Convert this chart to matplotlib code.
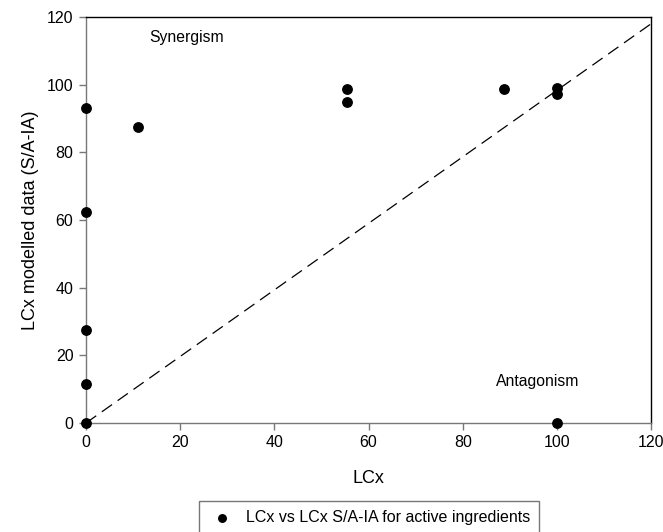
import matplotlib
matplotlib.use("Agg")
import matplotlib.pyplot as plt

plt.rcParams["font.family"] = ["Liberation Sans", "DejaVu Sans"]

# data
lcx = [0, 0, 0, 0, 0, 11, 55.5, 55.5, 88.8, 100, 100, 100]
lcx_model = [93.2, 62.3, 27.5, 11.5, 0, 87.5, 98.8, 94.8, 98.6, 99.0, 97.1, 0]
diag_x = [0, 120]
diag_y = [0, 118]

fig = plt.figure(figsize=(6.63, 5.32), dpi=100)
ax = fig.add_axes([0.1297, 0.2049, 0.8523, 0.7631])

ax.plot(diag_x, diag_y, color="black", lw=0.9, dashes=(10, 5.5))
ax.scatter(lcx, lcx_model, s=46, color="black", zorder=3, clip_on=False,
           label="LCx vs LCx S/A-IA for active ingredients")

ax.set_xlim(0, 120)
ax.set_ylim(0, 120)
ax.set_xticks(range(0, 121, 20))
ax.set_yticks(range(0, 121, 20))
ax.tick_params(direction="out", length=5, width=1, color="#777777",
               labelsize=11.5, pad=4)
ax.spines["left"].set_color("#777777")
ax.spines["bottom"].set_color("#777777")
ax.spines["top"].set_color("black")
ax.spines["right"].set_color("black")
for sp in ax.spines.values():
    sp.set_linewidth(1.0)

ax.set_xlabel("LCx", fontsize=13, labelpad=14)
ax.set_ylabel("LCx modelled data (S/A-IA)", fontsize=13, labelpad=6)

ax.text(13.5, 113.8, "Synergism", fontsize=11.3, va="center", ha="left")
ax.text(87, 12.4, "Antagonism", fontsize=11.3, va="center", ha="left")

leg = fig.legend(loc="upper center", bbox_to_anchor=(0.557, 0.0735),
                 fancybox=False, framealpha=1, edgecolor="#777777",
                 fontsize=11.5, borderpad=0.6, handletextpad=0.6,
                 handlelength=1.7, markerscale=0.8)
leg.get_frame().set_linewidth(1.0)

fig.savefig("out.png", dpi=100)
